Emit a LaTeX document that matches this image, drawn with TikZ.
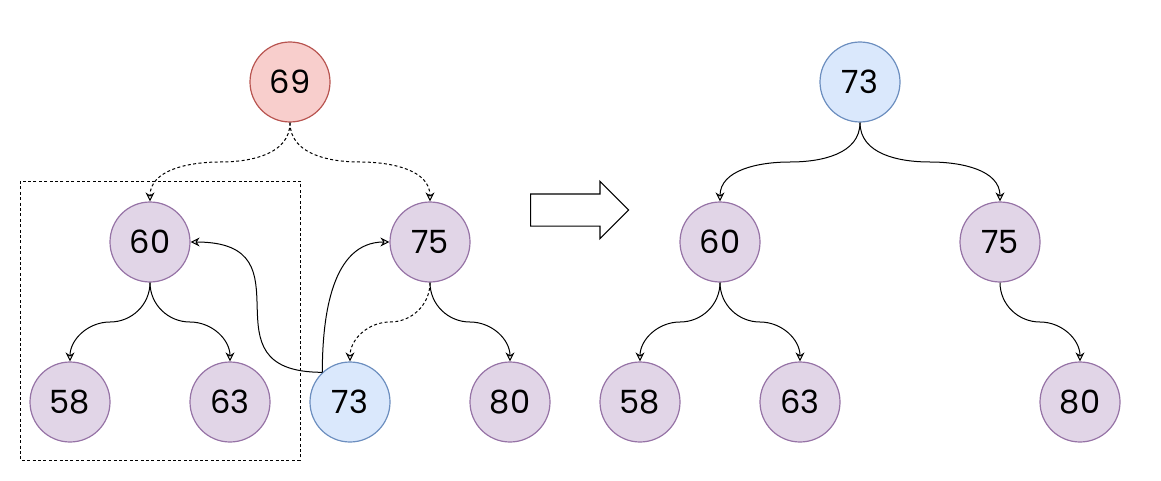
\documentclass[tikz,border=0pt]{standalone}
\usepackage{fontspec}
\setmainfont{Poppins}
\definecolor{purplefill}{HTML}{E1D5E7}
\definecolor{purpleline}{HTML}{9673A6}
\definecolor{redfill}{HTML}{F8CECC}
\definecolor{redline}{HTML}{B85450}
\definecolor{bluefill}{HTML}{DAE8FC}
\definecolor{blueline}{HTML}{6C8EBF}
\usetikzlibrary{shapes.arrows,arrows.meta,positioning,calc}

\begin{document}
\begin{tikzpicture}[x=0.5pt,y=0.5pt,
  heapnode/.style={circle,draw=#1line,fill=#1fill,line width=0.6pt,
                   minimum size=40pt,inner sep=0pt,
                   font=\fontsize{16}{16}\selectfont},
  link/.style={-{Stealth[open,length=4.5pt,width=4.5pt]},line width=0.5pt},
  hint/.style={link,dash pattern=on 1.5pt off 1.2pt}
]
\useasboundingbox (0,0) rectangle (1161,-481);
\node[heapnode=red] (a69) at (290,-82) {69};
\node[heapnode=purple] (a60) at (150,-242) {60};
\node[heapnode=purple] (a75) at (430,-242) {75};
\node[heapnode=purple] (a58) at (70,-402) {58};
\node[heapnode=purple] (a63) at (230,-402) {63};
\node[heapnode=blue] (a73) at (350,-402) {73};
\node[heapnode=purple] (a80) at (510,-402) {80};

\draw[dash pattern=on 1.5pt off 1.2pt,line width=0.5pt] (20,-181) rectangle (300,-460);

\draw[hint] (a69.south) to[out=-90,in=0] ($(a69.south)!0.5!(a60.north)$) to[out=180,in=90] (a60.north);
\draw[hint] (a69.south) to[out=-90,in=180] ($(a69.south)!0.5!(a75.north)$) to[out=0,in=90] (a75.north);
\draw[hint] (a75.south) to[out=-90,in=0] ($(a75.south)!0.5!(a73.north)$) to[out=180,in=90] (a73.north);
\draw[link] (a60.south) to[out=-90,in=0] ($(a60.south)!0.5!(a58.north)$) to[out=180,in=90] (a58.north);
\draw[link] (a60.south) to[out=-90,in=180] ($(a60.south)!0.5!(a63.north)$) to[out=0,in=90] (a63.north);
\draw[link] (a75.south) to[out=-90,in=180] ($(a75.south)!0.5!(a80.north)$) to[out=0,in=90] (a80.north);
\draw[link] (a73.133) .. controls +(-125,0) and +(125,0) .. (a60.east);
\draw[link] (a73.133) to[out=90,in=180] (a75.west);

\node[single arrow,draw,line width=0.6pt,minimum height=49pt,minimum width=28pt,
      single arrow head extend=6.25pt,inner xsep=0pt,inner ysep=7.75pt,
      anchor=tail] (goes) at (530,-210) {};

\node[heapnode=blue] (b73) at (860,-82) {73};
\node[heapnode=purple] (b60) at (720,-242) {60};
\node[heapnode=purple] (b75) at (1000,-242) {75};
\node[heapnode=purple] (b58) at (640,-402) {58};
\node[heapnode=purple] (b63) at (800,-402) {63};
\node[heapnode=purple] (b80) at (1080,-402) {80};

\draw[link] (b73.south) to[out=-90,in=0] ($(b73.south)!0.5!(b60.north)$) to[out=180,in=90] (b60.north);
\draw[link] (b73.south) to[out=-90,in=180] ($(b73.south)!0.5!(b75.north)$) to[out=0,in=90] (b75.north);
\draw[link] (b60.south) to[out=-90,in=0] ($(b60.south)!0.5!(b58.north)$) to[out=180,in=90] (b58.north);
\draw[link] (b60.south) to[out=-90,in=180] ($(b60.south)!0.5!(b63.north)$) to[out=0,in=90] (b63.north);
\draw[link] (b75.south) to[out=-90,in=180] ($(b75.south)!0.5!(b80.north)$) to[out=0,in=90] (b80.north);
\end{tikzpicture}
\end{document}
